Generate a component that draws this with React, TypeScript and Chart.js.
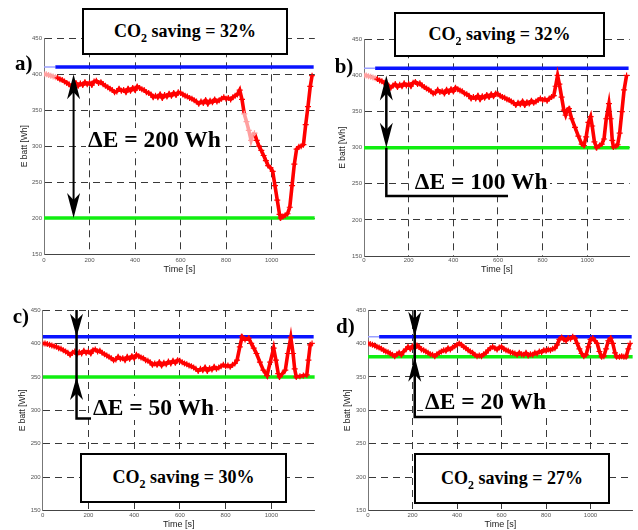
import React, { useEffect, useRef } from "react";
import { Chart, registerables } from "chart.js";

Chart.register(...registerables);

// ---------------- data ----------------
const timeTicks = [0, 200, 400, 600, 800, 1000];
const energyTicks = [150, 200, 250, 300, 350, 400, 450];
const timeMax = 1190;
const upperLimitWh = 410;

// shared start of the drive cycle for a), b), c)  [time s, energy Wh]
const commonStart: [number, number][] = [
  [0, 400], [10, 400], [20, 399], [30, 398], [40, 397], [50, 396], [60, 395], [70, 393], [80, 392], [90, 390],
  [100, 388], [110, 386], [120, 383], [130, 386], [140, 388], [150, 384], [160, 387], [170, 385], [180, 389], [190, 386],
  [200, 388], [210, 385], [220, 390], [230, 391], [240, 388], [250, 389], [260, 386], [270, 384], [280, 382], [290, 380],
  [300, 378], [310, 375], [320, 376], [330, 380], [340, 377], [350, 378], [360, 375], [370, 380], [380, 377], [390, 381],
  [400, 378], [410, 383], [420, 381], [430, 379], [440, 378], [450, 375], [460, 374], [470, 372], [480, 368], [490, 370],
  [500, 368], [510, 372], [520, 367], [530, 371], [540, 369], [550, 373], [560, 370], [570, 374], [580, 371], [590, 375],
  [600, 374], [610, 372], [620, 370], [630, 369], [640, 367], [650, 366], [660, 364], [670, 362], [680, 359], [690, 362],
  [700, 360], [710, 364], [720, 359], [730, 363], [740, 361], [750, 365], [760, 362], [770, 364], [780, 366], [790, 368],
  [800, 366], [810, 367], [820, 365], [830, 368], [840, 370],
];

const tailA: [number, number][] = [
  [850, 372], [860, 378], [870, 365], [880, 345], [890, 334], [900, 322], [910, 308], [918, 316], [925, 318], [935, 308],
  [945, 300], [955, 294], [965, 287], [975, 280], [985, 273], [995, 270], [1005, 265], [1015, 245], [1025, 225], [1035, 205],
  [1040, 200], [1050, 202], [1060, 204], [1070, 206], [1080, 215], [1090, 245], [1100, 275], [1110, 296], [1120, 299],
  [1130, 300], [1140, 302], [1150, 330], [1160, 355], [1170, 383], [1178, 398],
];

const tailB: [number, number][] = [
  [850, 372], [858, 385], [867, 400], [875, 388], [885, 370], [895, 352], [903, 345], [910, 352], [918, 354], [930, 340],
  [945, 328], [960, 316], [975, 305], [985, 303], [995, 315], [1005, 335], [1015, 343], [1022, 330], [1032, 308], [1042, 300],
  [1055, 303], [1065, 305], [1075, 312], [1085, 340], [1097, 361], [1105, 340], [1112, 310], [1117, 301], [1128, 302],
  [1136, 304], [1145, 320], [1155, 350], [1165, 380], [1176, 400],
];

const tailC: [number, number][] = [
  [850, 375], [862, 395], [872, 410], [885, 406], [901, 408], [912, 400], [923, 393], [935, 385], [950, 372], [965, 360],
  [981, 352], [995, 372], [1010, 393], [1020, 375], [1030, 355], [1036, 350], [1048, 355], [1061, 360], [1072, 385],
  [1085, 409], [1095, 385], [1102, 362], [1109, 350], [1125, 351], [1140, 352], [1155, 353], [1162, 375], [1170, 398], [1178, 400],
];

const seriesD: [number, number][] = [
  [0, 400], [10, 399], [20, 398], [30, 397], [40, 395], [50, 394], [60, 392], [70, 390], [80, 388], [90, 387],
  [100, 385], [110, 383], [120, 381], [130, 384], [140, 386], [150, 383], [160, 388], [170, 391], [180, 395], [190, 392],
  [200, 396], [210, 393], [220, 397], [230, 395], [240, 391], [250, 390], [260, 388], [270, 386], [280, 384], [290, 383],
  [300, 381], [310, 384], [320, 386], [330, 388], [340, 390], [350, 389], [360, 393], [370, 391], [380, 394], [390, 396],
  [400, 398], [410, 400], [420, 398], [430, 395], [440, 393], [450, 390], [460, 388], [470, 386], [480, 383], [490, 381],
  [500, 382], [510, 381], [520, 384], [530, 386], [540, 390], [550, 393], [560, 395], [570, 393], [580, 391], [590, 394],
  [600, 395], [610, 392], [620, 390], [630, 389], [640, 387], [650, 386], [660, 385], [670, 383], [680, 386], [690, 384],
  [700, 383], [710, 386], [720, 382], [730, 384], [740, 383], [750, 386], [760, 385], [770, 388], [780, 387], [790, 390],
  [800, 389], [810, 391], [820, 390], [830, 392], [840, 393], [850, 398], [860, 406], [870, 409], [880, 406], [890, 404],
  [900, 408], [910, 407], [920, 410], [930, 408], [940, 400], [950, 392], [960, 385], [970, 381], [980, 383], [990, 395],
  [1000, 406], [1010, 408], [1020, 404], [1030, 400], [1040, 388], [1050, 380], [1060, 381], [1070, 392], [1080, 404],
  [1090, 408], [1100, 400], [1110, 386], [1117, 380], [1130, 380], [1140, 381], [1150, 380], [1160, 380], [1170, 392], [1178, 400],
];

const lowerLimits = [200, 300, 350, 380];
const deltaE = [200, 100, 50, 20];
const co2Savings = [32, 32, 30, 27];
const panelLetters = ["a)", "b)", "c)", "d)"];
const panelSeries = [
  [...commonStart, ...tailA],
  [...commonStart, ...tailB],
  [...commonStart, ...tailC],
  seriesD,
];

// ---------------- layout / style ----------------
type Marker = {
  kind: "outward" | "inward";
  at: number; high: number; low: number;
  top?: number; bracketLow?: number; bracketEnd?: number;
  lw: number; hw: number; hh: number;
};

const layouts = [
  {
    box: { left: 0, top: 0, width: 320, height: 278 }, area: { l: 44, r: 317.7, t: 38.3, b: 254 },
    yTitlePad: 19.9, xTickPad: 2.4, xTitlePad: 2.6, fadeRed: [[0, 50], [875, 930]], fadeBlue: true,
    marker: { kind: "outward", at: 130, high: 400, low: 200, lw: 2, hw: 13, hh: 25 } as Marker,
    letter: { left: 15, top: 52.5 }, co2: { left: 82, top: 8, width: 206, height: 47 }, delta: { left: 86, top: 128.1 },
  },
  {
    box: { left: 320, top: 0, width: 318, height: 278 }, area: { l: 364, r: 629.7, t: 39.3, b: 256 },
    yTitlePad: 17.9, xTickPad: 0.5, xTitlePad: 2.6, fadeRed: [[0, 50]], fadeBlue: true,
    marker: { kind: "outward", at: 100, high: 400, low: 300, bracketLow: 233, bracketEnd: 645, lw: 2.5, hw: 13, hh: 25 } as Marker,
    letter: { left: 334.7, top: 56 }, co2: { left: 394, top: 12, width: 211, height: 45 }, delta: { left: 412.7, top: 169.8 },
  },
  {
    box: { left: 0, top: 272, width: 320, height: 258 }, area: { l: 42.7, r: 316.4, t: 310, b: 510.7 },
    yTitlePad: 17.6, xTickPad: 0.7, xTitlePad: 0, fadeRed: [], fadeBlue: false,
    marker: { kind: "inward", at: 148, high: 410, low: 350, top: 450, bracketLow: 288, bracketEnd: 524, lw: 2.5, hw: 13, hh: 23 } as Marker,
    letter: { left: 12.7, top: 306 }, co2: { left: 80, top: 452.7, width: 207, height: 50 }, delta: { left: 91, top: 396.4 },
  },
  {
    box: { left: 320, top: 272, width: 318, height: 258 }, area: { l: 368, r: 633, t: 310, b: 510.7 },
    yTitlePad: 22.9, xTickPad: 0.7, xTitlePad: 0, fadeRed: [], fadeBlue: true,
    marker: { kind: "inward", at: 210, high: 410, low: 380, top: 450, bracketLow: 290, bracketEnd: 600, lw: 2.5, hw: 13, hh: 25 } as Marker,
    letter: { left: 336, top: 316 }, co2: { left: 414, top: 453.3, width: 196, height: 51 }, delta: { left: 423, top: 390.1 },
  },
];

function drawHead(ctx: CanvasRenderingContext2D, x: number, tip: number, dir: number, w: number, h: number) {
  ctx.beginPath();
  ctx.moveTo(x, tip);
  ctx.lineTo(x - w / 2, tip + dir * h);
  ctx.lineTo(x, tip + dir * h * 0.72);
  ctx.lineTo(x + w / 2, tip + dir * h);
  ctx.closePath();
  ctx.fill();
}

const markerPlugin = {
  id: "deltaMarker",
  afterDatasetsDraw(chart: any, _args: any, opts: any) {
    const m = opts && opts.m;
    if (!m) return;
    const xs = chart.scales.x;
    const ys = chart.scales.y;
    const ctx: CanvasRenderingContext2D = chart.ctx;
    const px = xs.getPixelForValue(m.at);
    const yHigh = ys.getPixelForValue(m.high);
    const yLow = ys.getPixelForValue(m.low);
    ctx.save();
    ctx.strokeStyle = "#000";
    ctx.fillStyle = "#000";
    ctx.lineWidth = m.lw;
    ctx.lineJoin = "miter";
    ctx.beginPath();
    if (m.kind === "outward") {
      ctx.moveTo(px, yHigh + m.hh * 0.6);
      ctx.lineTo(px, yLow - m.hh * 0.6);
      if (m.bracketLow !== undefined) {
        ctx.moveTo(px, yLow);
        const yb = ys.getPixelForValue(m.bracketLow);
        ctx.lineTo(px, yb);
        ctx.lineTo(xs.getPixelForValue(m.bracketEnd), yb);
      }
      ctx.stroke();
      drawHead(ctx, px, yHigh, 1, m.hw, m.hh);
      drawHead(ctx, px, yLow, -1, m.hw, m.hh);
    } else {
      const yt = ys.getPixelForValue(m.top);
      const yb = ys.getPixelForValue(m.bracketLow);
      ctx.moveTo(px, yt);
      ctx.lineTo(px, yb);
      ctx.lineTo(xs.getPixelForValue(m.bracketEnd), yb);
      ctx.stroke();
      drawHead(ctx, px, yHigh, -1, m.hw, m.hh);
      drawHead(ctx, px, yLow, 1, m.hw, m.hh);
    }
    ctx.restore();
  },
};

const RED = "#ff0000";
const RED_FADE = "#ffa0a0";
const BLUE = "#0a14ff";
const BLUE_FADE = "#9aa0ff";
const GREEN = "#10ee10";

function buildChart(canvas: HTMLCanvasElement, i: number) {
  const L = layouts[i];
  const xAxisH = L.box.top + L.box.height - L.area.b;
  const yAxisW = L.area.l - L.box.left;
  const inFade = (t: number) => L.fadeRed.some(([a, b]) => t >= a && t <= b);
  const tickFont = { family: "'Liberation Sans', Arial, sans-serif", size: 6 };
  return new Chart(canvas, {
    type: "line",
    data: {
      datasets: [
        {
          label: "E batt",
          data: panelSeries[i].map(([x, y]) => ({ x, y })),
          borderColor: RED,
          borderWidth: 3.6,
          pointStyle: "cross",
          pointRadius: 3,
          pointBorderWidth: 1.2,
          pointBorderColor: (c: any) => (c.raw && inFade(c.raw.x) ? RED_FADE : RED),
          pointBackgroundColor: RED,
          tension: 0,
          segment: {
            borderColor: (c: any) => (inFade(c.p0.parsed.x) && inFade(c.p1.parsed.x) ? RED_FADE : undefined),
          },
        } as any,
        {
          label: "upper",
          data: [{ x: 0, y: upperLimitWh }, { x: 50, y: upperLimitWh }, { x: 1185, y: upperLimitWh }],
          borderColor: BLUE,
          borderWidth: 3.5,
          pointRadius: 0,
          segment: {
            borderColor: (c: any) => (L.fadeBlue && c.p0DataIndex === 0 ? BLUE_FADE : undefined),
            borderWidth: (c: any) => (L.fadeBlue && c.p0DataIndex === 0 ? 1.5 : undefined),
          },
        } as any,
        {
          label: "lower",
          data: [{ x: 0, y: lowerLimits[i] }, { x: timeMax, y: lowerLimits[i] }],
          borderColor: GREEN,
          borderWidth: 3.5,
          pointRadius: 0,
        },
      ],
    },
    options: {
      animation: false,
      responsive: false,
      events: [],
      layout: {
        padding: {
          left: 0,
          top: L.area.t - L.box.top,
          right: L.box.left + L.box.width - L.area.r,
          bottom: 0,
        },
      },
      plugins: {
        legend: { display: false },
        tooltip: { enabled: false },
        deltaMarker: { m: L.marker },
      } as any,
      scales: {
        x: {
          type: "linear",
          min: 0,
          max: timeMax,
          afterBuildTicks: (s: any) => { s.ticks = timeTicks.map((v) => ({ value: v })); },
          afterFit: (s: any) => { s.height = xAxisH; },
          ticks: { font: tickFont, color: "#555", padding: L.xTickPad, maxRotation: 0, autoSkip: false, callback: (v: any) => String(v) },
          grid: { color: "#222", lineWidth: 0.9, drawTicks: false },
          border: { display: true, color: "#444", width: 1, dash: [7, 5] },
          title: {
            display: true, text: "Time [s]", color: "#222",
            font: { family: "'Liberation Sans', Arial, sans-serif", size: 9 },
            padding: { top: 0, bottom: L.xTitlePad },
          },
        },
        y: {
          type: "linear",
          min: 150,
          max: 450,
          afterBuildTicks: (s: any) => { s.ticks = energyTicks.map((v) => ({ value: v })); },
          afterFit: (s: any) => { s.width = yAxisW; },
          ticks: { font: tickFont, color: "#555", padding: 2, autoSkip: false, callback: (v: any) => String(v) },
          grid: { color: "#222", lineWidth: 0.9, drawTicks: false },
          border: { display: true, color: "#777", width: 1, dash: [7, 5] },
          title: {
            display: true, text: "E batt [Wh]", color: "#222",
            font: { family: "'Liberation Sans', Arial, sans-serif", size: 8.5 },
            padding: { top: L.yTitlePad, bottom: 0 },
          },
        },
      },
    } as any,
    plugins: [markerPlugin],
  });
}

const serif = "'Liberation Serif', 'Times New Roman', serif";

export default function App() {
  const r0 = useRef<HTMLCanvasElement>(null);
  const r1 = useRef<HTMLCanvasElement>(null);
  const r2 = useRef<HTMLCanvasElement>(null);
  const r3 = useRef<HTMLCanvasElement>(null);
  const refs = [r0, r1, r2, r3];

  useEffect(() => {
    const charts = refs.map((r, i) => buildChart(r.current as HTMLCanvasElement, i));
    return () => charts.forEach((c) => c.destroy());
  }, []);

  return (
    <div style={{ position: "absolute", left: 0, top: 0, width: 638, height: 530, background: "#fff", overflow: "hidden" }}>
      {layouts.map((L, i) => (
        <canvas
          key={"c" + i}
          ref={refs[i]}
          width={L.box.width}
          height={L.box.height}
          style={{ position: "absolute", left: L.box.left, top: L.box.top, width: L.box.width, height: L.box.height }}
        />
      ))}
      {layouts.map((L, i) => (
        <div
          key={"l" + i}
          style={{ position: "absolute", left: L.letter.left, top: L.letter.top, font: `bold 21px ${serif}`, lineHeight: "21px", color: "#000" }}
        >
          {panelLetters[i]}
        </div>
      ))}
      {layouts.map((L, i) => (
        <div
          key={"d" + i}
          style={{
            position: "absolute", left: L.delta.left, top: L.delta.top, font: `bold 23.5px ${serif}`, lineHeight: "23.5px",
            background: "#fff", padding: "0 2px", whiteSpace: "nowrap", color: "#000",
          }}
        >
          {"\u0394E = " + deltaE[i] + " Wh"}
        </div>
      ))}
      {layouts.map((L, i) => (
        <div
          key={"b" + i}
          style={{
            position: "absolute", left: L.co2.left, top: L.co2.top, width: L.co2.width, height: L.co2.height,
            border: "2px solid #000", background: "#fff", boxSizing: "border-box",
            display: "flex", alignItems: "center", justifyContent: "center",
            font: `bold 18px ${serif}`, color: "#000", whiteSpace: "nowrap",
          }}
        >
          <span>
            CO<span style={{ fontSize: 12, position: "relative", top: 5 }}>2</span> saving = {co2Savings[i]}%
          </span>
        </div>
      ))}
    </div>
  );
}
